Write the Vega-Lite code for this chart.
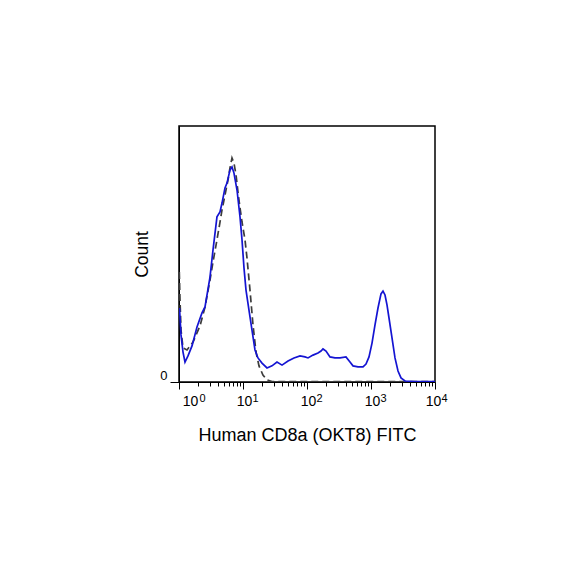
{
  "$schema": "https://vega.github.io/schema/vega-lite/v6.json",
  "width": 256,
  "height": 256,
  "autosize": {"type": "none"},
  "padding": {"left": 179, "top": 126, "right": 149, "bottom": 202},
  "background": "white",
  "config": {
    "view": {"stroke": "black", "strokeWidth": 1.5},
    "font": "Liberation Sans"
  },
  "resolve": {"axis": {"x": "independent"}},
  "datasets": {
    "blue": [
      {"x": 1.018, "y": 28.9}, {"x": 1.075, "y": 18.4}, {"x": 1.155, "y": 11.7}, {"x": 1.241, "y": 7.8},
      {"x": 1.382, "y": 10.2}, {"x": 1.597, "y": 14.1}, {"x": 1.911, "y": 21.5}, {"x": 2.287, "y": 27.0},
      {"x": 2.549, "y": 29.3}, {"x": 3.05, "y": 41.0}, {"x": 3.40, "y": 51.6}, {"x": 3.92, "y": 64.5},
      {"x": 4.37, "y": 66.4}, {"x": 4.70, "y": 69.9}, {"x": 5.23, "y": 75.8}, {"x": 5.62, "y": 77.7},
      {"x": 6.26, "y": 82.8}, {"x": 6.73, "y": 84.0}, {"x": 7.23, "y": 81.6}, {"x": 8.06, "y": 75.0},
      {"x": 8.98, "y": 64.5}, {"x": 9.65, "y": 55.5}, {"x": 10.37, "y": 44.5}, {"x": 11.14, "y": 35.9},
      {"x": 12.86, "y": 25.4}, {"x": 15.40, "y": 12.5}, {"x": 17.15, "y": 9.4}, {"x": 19.81, "y": 7.4},
      {"x": 23.71, "y": 5.5}, {"x": 28.39, "y": 6.3}, {"x": 33.98, "y": 7.8}, {"x": 40.7, "y": 6.6},
      {"x": 50.5, "y": 8.2}, {"x": 62.6, "y": 9.4}, {"x": 77.8, "y": 10.2}, {"x": 93.1, "y": 9.8},
      {"x": 103.7, "y": 9.4}, {"x": 124.1, "y": 10.5}, {"x": 148.5, "y": 11.3}, {"x": 165.5, "y": 12.1},
      {"x": 177.8, "y": 12.9}, {"x": 198.1, "y": 12.1}, {"x": 228.7, "y": 9.8}, {"x": 273.8, "y": 9.4},
      {"x": 327.8, "y": 9.4}, {"x": 406.6, "y": 9.8}, {"x": 469.6, "y": 7.8}, {"x": 523.4, "y": 6.3},
      {"x": 626.5, "y": 5.9}, {"x": 749.9, "y": 5.9}, {"x": 835.5, "y": 7.0}, {"x": 930.8, "y": 9.8},
      {"x": 1037, "y": 15.2}, {"x": 1155, "y": 22.3}, {"x": 1286, "y": 28.9}, {"x": 1433, "y": 34.4},
      {"x": 1540, "y": 35.5}, {"x": 1655, "y": 34.0}, {"x": 1778, "y": 30.1}, {"x": 1911, "y": 25.0},
      {"x": 2129, "y": 17.2}, {"x": 2371, "y": 9.4}, {"x": 2642, "y": 4.3}, {"x": 2943, "y": 1.6},
      {"x": 3398, "y": 0.4}, {"x": 4870, "y": 0.2}, {"x": 10000, "y": 0.2}
    ],
    "dashed": [
      {"x": 1.011, "y": 43.0}, {"x": 1.037, "y": 32.0}, {"x": 1.075, "y": 20.3}, {"x": 1.155, "y": 13.3},
      {"x": 1.334, "y": 12.5}, {"x": 1.655, "y": 15.6}, {"x": 2.129, "y": 21.9}, {"x": 2.549, "y": 29.3},
      {"x": 3.05, "y": 39.8}, {"x": 3.40, "y": 46.9}, {"x": 3.79, "y": 53.5}, {"x": 4.22, "y": 60.2},
      {"x": 4.70, "y": 67.2}, {"x": 5.23, "y": 73.0}, {"x": 5.83, "y": 78.9}, {"x": 6.26, "y": 83.6},
      {"x": 6.73, "y": 87.5}, {"x": 7.23, "y": 85.5}, {"x": 7.78, "y": 80.9}, {"x": 8.35, "y": 74.2},
      {"x": 8.98, "y": 68.0}, {"x": 9.65, "y": 62.5}, {"x": 10.75, "y": 55.5}, {"x": 11.55, "y": 48.4},
      {"x": 12.86, "y": 35.9}, {"x": 14.33, "y": 22.3}, {"x": 15.97, "y": 11.7}, {"x": 17.78, "y": 6.3},
      {"x": 20.5, "y": 2.7}, {"x": 23.71, "y": 0.8}, {"x": 28.39, "y": 0.2}, {"x": 10000, "y": 0.2}
    ]
  },
  "layer": [
    {
      "data": {"name": "dashed"},
      "mark": {"type": "line", "color": "#3c3c3c", "strokeWidth": 1.7, "strokeDash": [7, 4], "clip": true},
      "encoding": {
        "x": {
          "field": "x", "type": "quantitative",
          "scale": {"type": "log", "domain": [1, 10000], "nice": false},
          "axis": {
            "orient": "bottom",
            "title": "Human CD8a (OKT8) FITC",
            "titleFontSize": 18,
            "titleFontWeight": "normal",
            "titleColor": "black",
            "titlePadding": 18,
            "values": [1,2,3,4,5,6,7,8,9,10,20,30,40,50,60,70,80,90,100,200,300,400,500,600,700,800,900,1000,2000,3000,4000,5000,6000,7000,8000,9000,10000],
            "labelExpr": "indexof([1,10,100,1000,10000], datum.value) >= 0 ? '10' : ''",
            "labelOverlap": false,
            "labelBound": false,
            "labelFlush": false,
            "labelFontSize": 14,
            "labelColor": "black",
            "labelPadding": 5,
            "labelOffset": {"condition": [{"test": "datum.value == 1", "value": 11}, {"test": "datum.value == 10000", "value": -2}], "value": 1},
            "tickSize": {"condition": {"test": "indexof([1,10,100,1000,10000], datum.value) >= 0", "value": 7}, "value": 4},
            "tickColor": "black",
            "domainColor": "black",
            "grid": false
          }
        },
        "y": {
          "field": "y", "type": "quantitative",
          "scale": {"domain": [0, 100], "nice": false},
          "axis": {
            "title": "Count",
            "titleFontSize": 17.5,
            "titleFontWeight": "normal",
            "titleColor": "black",
            "titlePadding": 8,
            "values": [0],
            "labelFontSize": 13,
            "labelColor": "black",
            "labelBaseline": "bottom",
            "labelPadding": 3,
            "tickSize": 9,
            "tickColor": "black",
            "domainColor": "black",
            "grid": false
          }
        }
      }
    },
    {
      "data": {"name": "blue"},
      "mark": {"type": "line", "color": "#1414d2", "strokeWidth": 1.7, "clip": true},
      "encoding": {
        "x": {
          "field": "x", "type": "quantitative",
          "axis": {
            "orient": "bottom",
            "title": null,
            "values": [1, 10, 100, 1000, 10000],
            "labelExpr": "datum.value == 1 ? '0' : datum.value == 10 ? '1' : datum.value == 100 ? '2' : datum.value == 1000 ? '3' : '4'",
            "labelOverlap": false,
            "labelBound": false,
            "labelFlush": false,
            "labelFontSize": 11,
            "labelColor": "black",
            "labelBaseline": "top",
            "labelPadding": 10,
            "labelOffset": {"condition": [{"test": "datum.value == 1", "value": 23}, {"test": "datum.value == 10000", "value": 9}], "value": 12},
            "ticks": false,
            "tickSize": 0,
            "domain": false,
            "grid": false
          }
        },
        "y": {"field": "y", "type": "quantitative"}
      }
    }
  ]
}
